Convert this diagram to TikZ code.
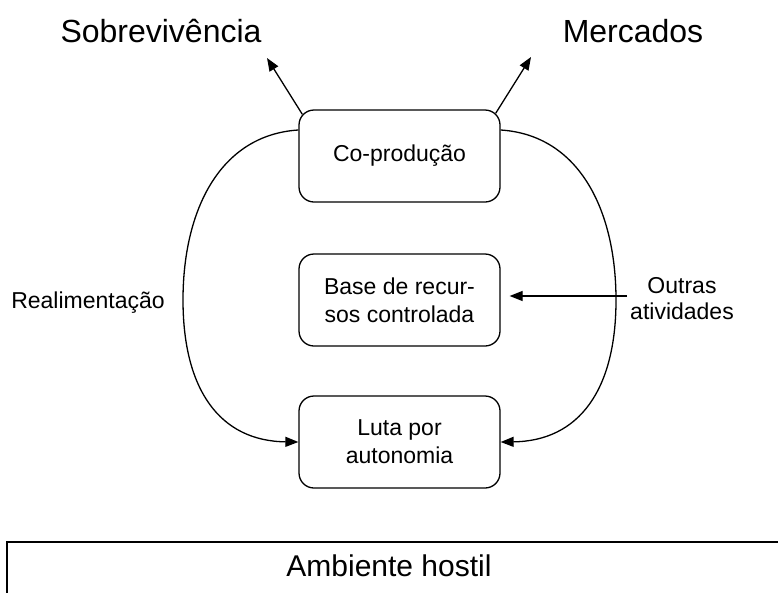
\documentclass[tikz,border=0pt]{standalone}
\usepackage{fontspec}
\setmainfont{Liberation Sans}
\usetikzlibrary{arrows.meta}
\begin{document}
\begin{tikzpicture}[x=1pt,y=-1pt,
  box/.style={draw,line width=1.3pt,rounded corners=15pt,minimum width=201pt,minimum height=92pt,inner sep=0pt,align=center,font=\fontsize{23}{28}\selectfont},
  big/.style={font=\fontsize{32}{38}\selectfont,inner sep=0pt},
  small/.style={font=\fontsize{23}{26}\selectfont,align=center,inner sep=0pt},
  arr/.style={line width=1.3pt,-{Triangle[length=13pt,width=10pt]}},
  line/.style={line width=1.3pt}]
\useasboundingbox (0,0) rectangle (778,592);
\clip (0,0) rectangle (778,592);
\node[box] (co) at (399.5,156) {Co-produção};
\node[box] (base) at (399.5,300) {Base de recur-\\sos controlada};
\node[box] (luta) at (399.5,442) {Luta por\\autonomia};
\node[big] (sobre) at (161,31) {Sobrevivência};
\node[big] (merc) at (633,31) {Mercados};
\node[small] (realim) at (88,303) {Realimentação};
\node[small] (outras) at (682,299) {Outras\\atividades};
\coordinate (t1) at (267,58);
\coordinate (t2) at (531,57);
\coordinate (oa) at (627,296);
\draw[arr] ([shift={(4,5)}]co.north west) -- (t1);
\draw[arr] ([shift={(-5,4)}]co.north east) -- (t2);
\draw[arr] ([yshift=26pt]co.west) .. controls (220,135) and (183,210) .. (183,300) .. controls (183,390) and (220,441) .. (luta.west);
\draw[arr] ([yshift=26pt]co.east) .. controls (579,135) and (616,210) .. (616,300) .. controls (616,390) and (579,441) .. (luta.east);
\draw[arr] (oa) -- ([xshift=9pt,yshift=4pt]base.east);
\draw[line width=1.5pt] (7,600) -- (7,542) -- (790,542);
\node[font=\fontsize{30}{36}\selectfont,inner sep=0pt] (amb) at (389,566) {Ambiente hostil};
\end{tikzpicture}
\end{document}
